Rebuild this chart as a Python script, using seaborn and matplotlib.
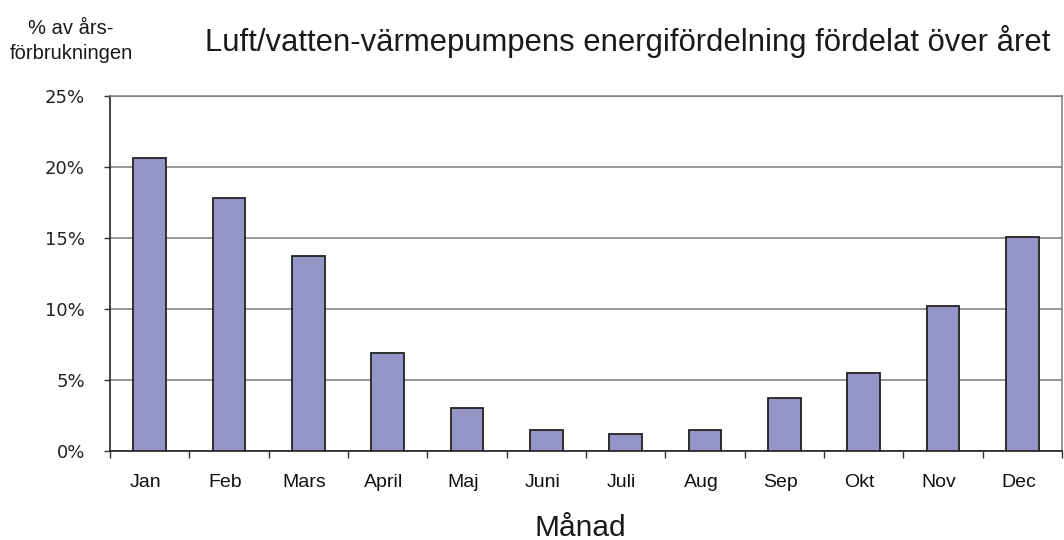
import matplotlib
matplotlib.use("Agg")
import matplotlib.pyplot as plt
import matplotlib.transforms as mtransforms
import seaborn as sns
import pandas as pd
import numpy as np
from matplotlib.ticker import FixedLocator, FuncFormatter

months = ["Jan", "Feb", "Mars", "April", "Maj", "Juni", "Juli", "Aug", "Sep", "Okt", "Nov", "Dec"]
share = [20.6, 17.85, 13.75, 6.9, 3.05, 1.45, 1.2, 1.45, 3.75, 5.5, 10.2, 15.1]
yticks = [0, 5, 10, 15, 20, 25]

sns.set_theme(style="white")
plt.rcParams['font.family'] = ['Liberation Sans', 'DejaVu Sans']

df = pd.DataFrame({"Månad": months, "Andel": share})

fig = plt.figure(figsize=(10.64, 5.40), dpi=100)
ax = fig.add_axes([110/1064, 89/540, 952/1064, 355/540])

sns.barplot(data=df, x="Månad", y="Andel", order=months, color="#9595c8",
            saturation=1, width=0.41, edgecolor="#222222", linewidth=1.3, ax=ax, zorder=3)

ax.set_ylim(0, 25)
ax.set_xlim(-0.5, len(months) - 0.5)
ax.set_yticks(yticks)
ax.yaxis.set_major_formatter(FuncFormatter(lambda v, p: f"{int(v)}%"))
ax.grid(axis="y", color="#7a7a7a", linewidth=1.1, zorder=0)
ax.grid(axis="x", visible=False)

ax.tick_params(axis="y", which="major", left=True, length=4, width=1, color="#333333",
               labelsize=13, pad=14, labelcolor="#222222")
for lab in ax.get_yticklabels():
    lab.set_fontfamily(['DejaVu Sans'])
ax.tick_params(axis="x", which="major", bottom=False, length=0, labelsize=14, pad=21, labelcolor="#111111")
shift = mtransforms.ScaledTranslation(-4/100, 0, fig.dpi_scale_trans)
for lab in ax.get_xticklabels():
    lab.set_verticalalignment("center_baseline")
    lab.set_transform(lab.get_transform() + shift)
ax.xaxis.set_minor_locator(FixedLocator(np.arange(-0.5, len(months), 1.0)))
ax.tick_params(axis="x", which="minor", bottom=True, length=5, width=1, color="#333333")

for side in ["left", "bottom"]:
    ax.spines[side].set_color("#222222")
    ax.spines[side].set_linewidth(1.2)
for side in ["top", "right"]:
    ax.spines[side].set_color("#7a7a7a")
    ax.spines[side].set_linewidth(1.1)

ax.set_xlabel("")
ax.set_ylabel("")

fig.text(628/1064, 1 - 41/540, "Luft/vatten-värmepumpens energifördelning fördelat över året",
         ha="center", va="center", fontsize=22.3, color="#1a1a1a")
fig.text(580/1064, 1 - 528/540, "Månad", ha="center", va="center", fontsize=21.5, color="#1a1a1a")
fig.text(71/1064, 1 - 41/540, "% av års-\nförbrukningen", ha="center", va="center",
         fontsize=14.5, color="#1a1a1a", linespacing=1.45)

fig.savefig("out.png", dpi=100, facecolor="white")
